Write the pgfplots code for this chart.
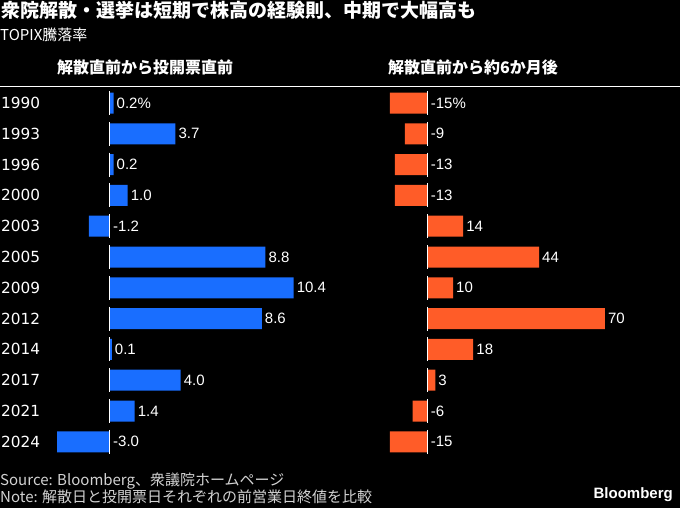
\documentclass[border=0pt]{standalone}
\usepackage{fontspec}
\setmainfont{Noto Sans CJK JP}
\newfontfamily\numfont{Liberation Sans}
\newfontfamily\yearfont{DejaVu Sans}
\usepackage{pgfplots}
\pgfplotsset{compat=1.18}
\definecolor{bblue}{RGB}{25,110,255}
\definecolor{borange}{RGB}{255,92,40}
\definecolor{foot}{RGB}{210,210,210}

\begin{document}
\begin{tikzpicture}[x=1pt,y=1pt]
\fill[black] (0,0) rectangle (680,-508);
\useasboundingbox (0,0) rectangle (680,-508);
\node[anchor=west, inner sep=0pt, text=white, font=\fontsize{19}{22}\selectfont\bfseries] at (1,-10) {衆院解散・選挙は短期で株高の経験則、中期で大幅高も};
\node[anchor=west, inner sep=0pt, text=white, font=\fontsize{15}{18}\selectfont] at (0,-35) {TOPIX騰落率};
\node[anchor=west, inner sep=0pt, text=white, font=\fontsize{16}{19}\selectfont\bfseries] at (57,-67.5) {解散直前から投開票直前};
\node[anchor=west, inner sep=0pt, text=white, font=\fontsize{16}{19}\selectfont\bfseries] at (388,-67.5) {解散直前から約6か月後};
\draw[white, line width=1.6pt] (0,-86.5) -- (680,-86.5);

\begin{axis}[at={(0pt,-87.6pt)}, anchor=north west, scale only axis,
  width=330pt, height=369.6pt,
  xmin=-6.232, xmax=12.465, ymin=-0.5, ymax=11.5, y dir=reverse,
  axis line style={draw=none}, major tick length=0pt, xtick=\empty,
  ytick={0,1,2,3,4,5,6,7,8,9,10,11},
  yticklabels={1990,1993,1996,2000,2003,2005,2009,2012,2014,2017,2021,2024},
  yticklabel style={anchor=west, inner sep=0pt, xshift=1pt, text=white, font=\yearfont\fontsize{15.3}{18}\selectfont},
  clip=false]
\addplot[xbar, bar width=21pt, fill=bblue, draw=none] coordinates {
(0.2,0) (3.7,1) (0.2,2) (1.0,3) (-1.2,4) (8.8,5) (10.4,6) (8.6,7) (0.1,8) (4.0,9) (1.4,10) (-3.0,11)};
\addplot[only marks, mark=|, mark size=12pt, mark options={white, line width=1pt}] coordinates {
(0,0) (0,1) (0,2) (0,3) (0,4) (0,5) (0,6) (0,7) (0,8) (0,9) (0,10) (0,11)};
\addplot[draw=none, mark=none, nodes near coords, point meta=explicit symbolic,
  nodes near coords style={anchor=west, inner sep=0pt, xshift=3pt, text=white, font=\numfont\fontsize{15}{18}\selectfont}] coordinates {
(0.2,0) [0.2\%] (3.7,1) [3.7] (0.2,2) [0.2] (1.0,3) [1.0] (0,4) [-1.2] (8.8,5) [8.8] (10.4,6) [10.4] (8.6,7) [8.6] (0.1,8) [0.1] (4.0,9) [4.0] (1.4,10) [1.4] (0,11) [-3.0]};
\end{axis}

\begin{axis}[at={(377.1pt,-87.6pt)}, anchor=north west, scale only axis,
  width=290.95pt, height=369.6pt,
  xmin=-20, xmax=95, ymin=-0.5, ymax=11.5, y dir=reverse,
  axis line style={draw=none}, major tick length=0pt, xtick=\empty, ytick=\empty,
  clip=false]
\addplot[xbar, bar width=21pt, fill=borange, draw=none] coordinates {
(-15,0) (-9,1) (-13,2) (-13,3) (14,4) (44,5) (10,6) (70,7) (18,8) (3,9) (-6,10) (-15,11)};
\addplot[only marks, mark=|, mark size=12pt, mark options={white, line width=1pt}] coordinates {
(0,0) (0,1) (0,2) (0,3) (0,4) (0,5) (0,6) (0,7) (0,8) (0,9) (0,10) (0,11)};
\addplot[draw=none, mark=none, nodes near coords, point meta=explicit symbolic,
  nodes near coords style={anchor=west, inner sep=0pt, xshift=3pt, text=white, font=\numfont\fontsize{15}{18}\selectfont}] coordinates {
(0,0) [-15\%] (0,1) [-9] (0,2) [-13] (0,3) [-13] (14,4) [14] (44,5) [44] (10,6) [10] (70,7) [70] (18,8) [18] (3,9) [3] (0,10) [-6] (0,11) [-15]};
\end{axis}

\node[anchor=west, inner sep=0pt, text=foot, font=\fontsize{15}{17}\selectfont] at (0,-481) {Source: Bloomberg、衆議院ホームページ};
\node[anchor=west, inner sep=0pt, text=foot, font=\fontsize{15}{17}\selectfont] at (0,-497) {Note: 解散日と投開票日それぞれの前営業日終値を比較};
\node[anchor=east, inner sep=0pt, text=white, font=\numfont\bfseries\fontsize{15}{18}\selectfont] at (673,-495) {Bloomberg};
\end{tikzpicture}
\end{document}
